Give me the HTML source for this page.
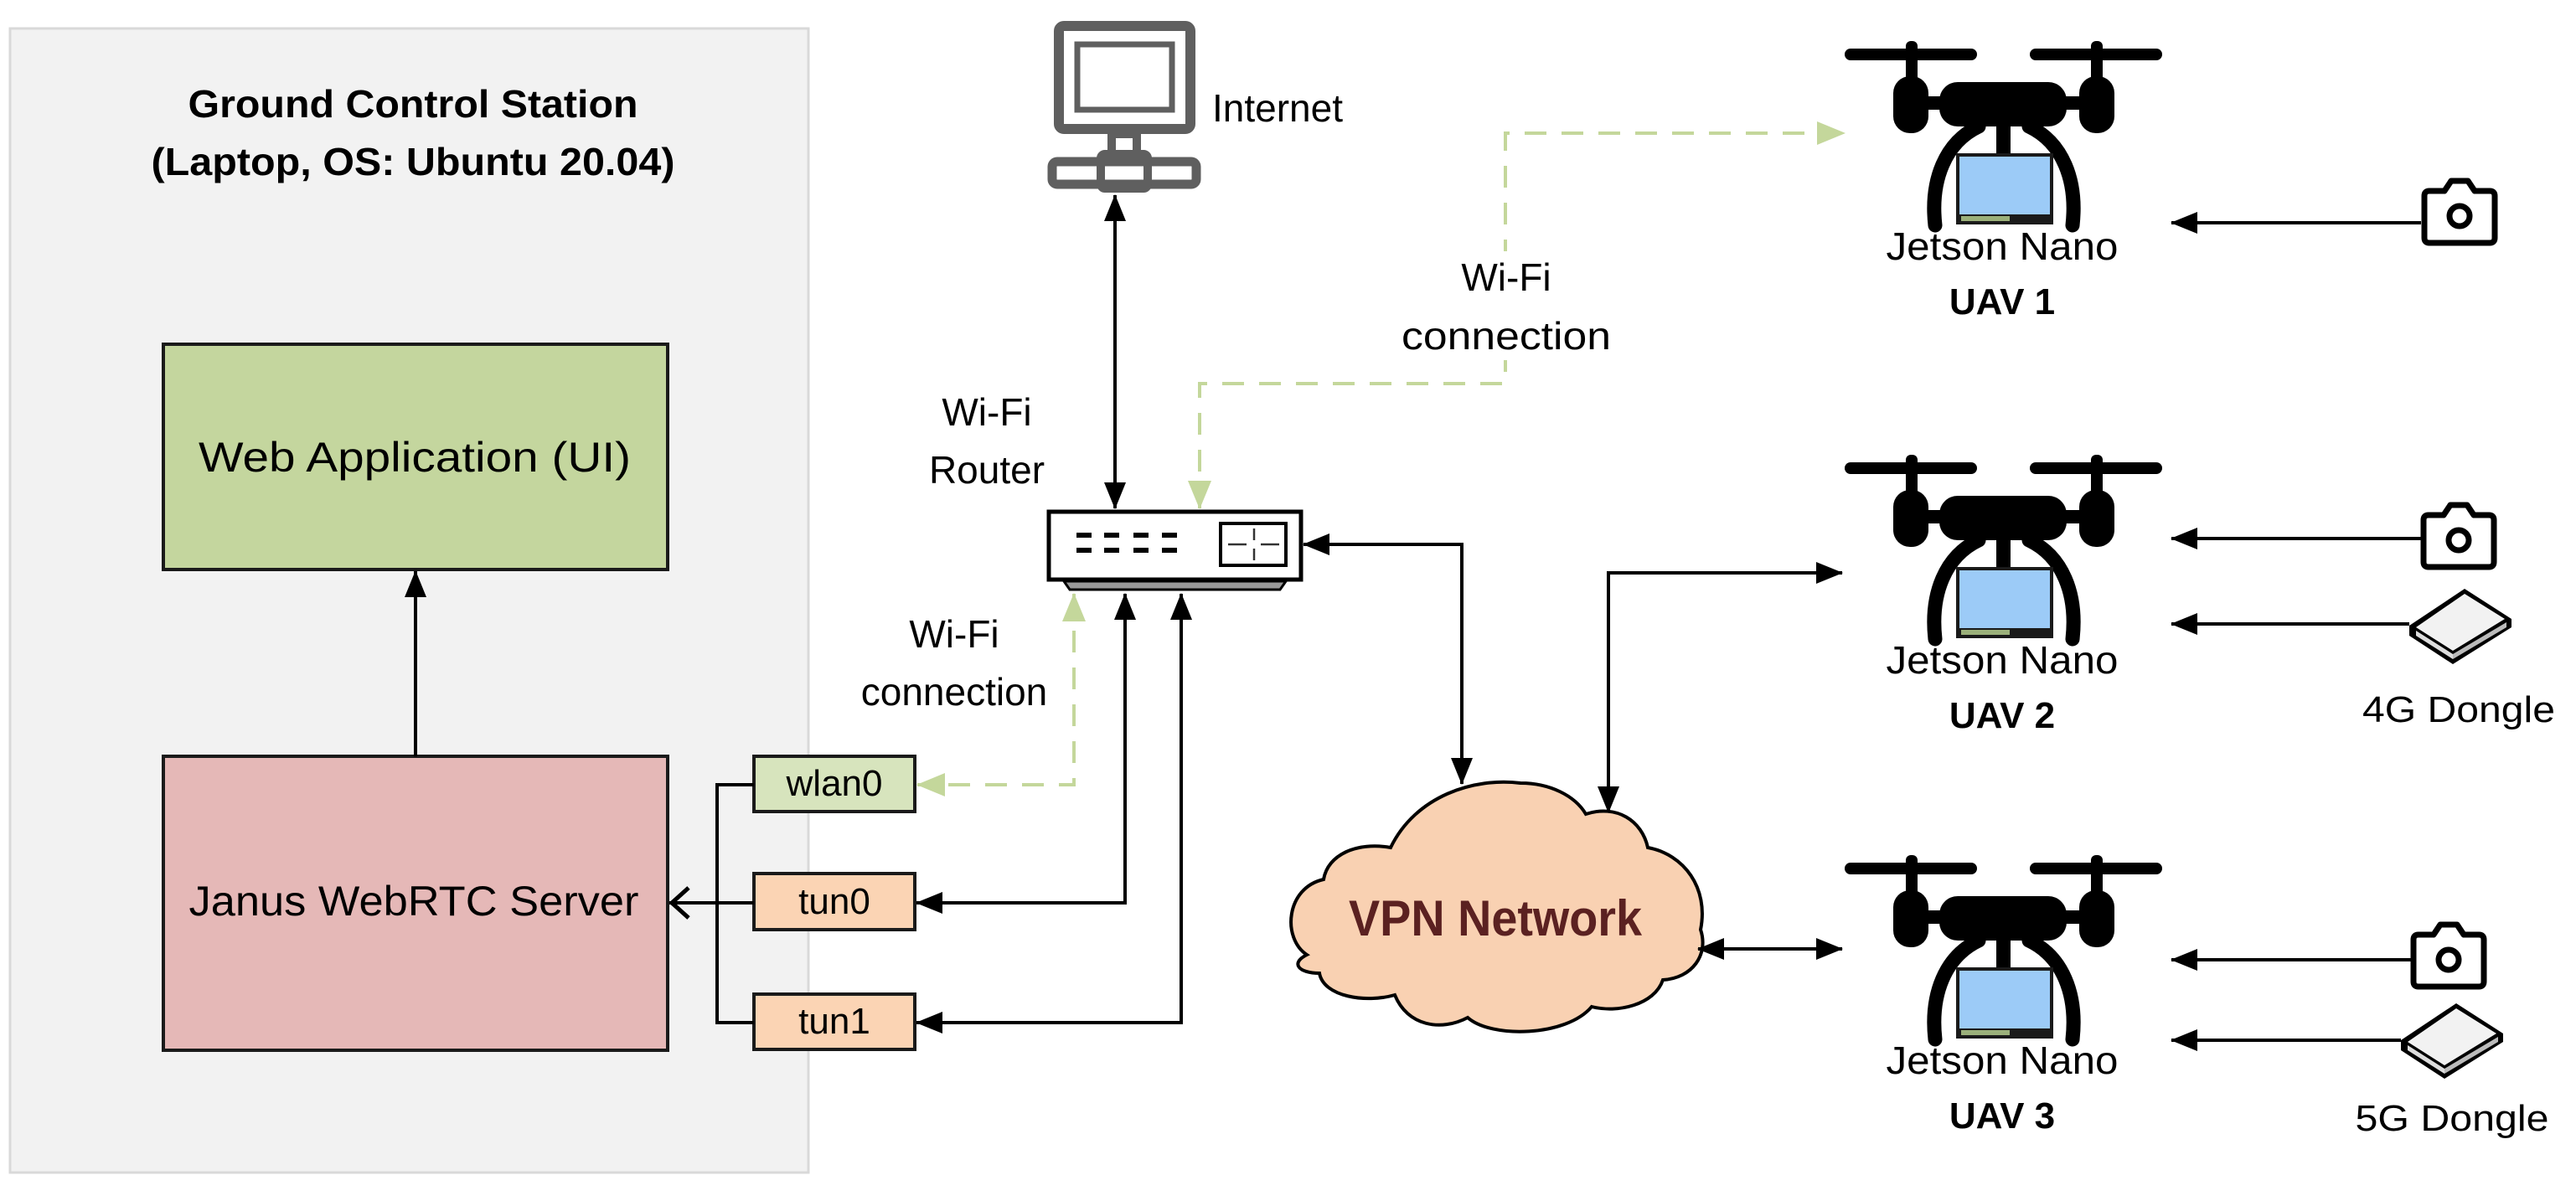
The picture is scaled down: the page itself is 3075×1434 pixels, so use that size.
<!DOCTYPE html>
<html><head><meta charset="utf-8"><style>html,body{margin:0;padding:0;background:#fff}svg{display:block}text{font-family:"Liberation Sans",sans-serif}</style></head>
<body>
<svg width="3075" height="1434" viewBox="0 0 3075 1434" xmlns="http://www.w3.org/2000/svg">
<defs>
<marker id="ab" viewBox="0 0 32 26" refX="31" refY="13" markerWidth="32" markerHeight="26" orient="auto-start-reverse" markerUnits="userSpaceOnUse"><path d="M0,0 L32,13 L0,26 Z" fill="#000"/></marker>
<marker id="ag" viewBox="0 0 34 28" refX="33" refY="14" markerWidth="34" markerHeight="28" orient="auto-start-reverse" markerUnits="userSpaceOnUse"><path d="M0,0 L34,14 L0,28 Z" fill="#c4d79b"/></marker>
<g id="drone">
<rect x="-190" y="-7" width="158" height="14" rx="7" fill="#000"/>
<rect x="31" y="-7" width="158" height="14" rx="7" fill="#000"/>
<rect x="-117" y="-16" width="14" height="50" rx="6" fill="#000"/>
<rect x="104" y="-16" width="14" height="50" rx="6" fill="#000"/>
<rect x="-132" y="26" width="42" height="68" rx="20" fill="#000"/>
<rect x="90" y="26" width="42" height="68" rx="20" fill="#000"/>
<rect x="-100" y="50" width="200" height="16" fill="#000"/>
<rect x="-77" y="33" width="152" height="53" rx="22" fill="#000"/>
<rect x="-9" y="84" width="17" height="40" fill="#000"/>
<path d="M-82,204 C-88,150 -70,105 -30,86 M82,204 C88,150 70,105 30,86" stroke="#000" stroke-width="17" fill="none" stroke-linecap="round"/>
<rect x="-55" y="120" width="112" height="81" fill="#9ccbf7" stroke="#1a1a1a" stroke-width="4"/>
<rect x="-53" y="191" width="108" height="10" fill="#1a1a1a"/>
<rect x="-51" y="193" width="58" height="6" fill="#9bb07a"/>
</g>
<g id="cam">
<path d="M-36,-30 L-18,-30 L-10,-42 L10,-42 L18,-30 L36,-30 Q42,-30 42,-24 L42,26 Q42,32 36,32 L-36,32 Q-42,32 -42,26 L-42,-24 Q-42,-30 -36,-30 Z" fill="#fff" stroke="#000" stroke-width="7" stroke-linejoin="round"/>
<circle cx="0" cy="0" r="12" fill="none" stroke="#000" stroke-width="7"/>
</g>
<g id="dongle">
<path d="M0,-42 L56,-6 L56,4 L-14,48 L-66,14 L-66,2 Z" fill="#000"/>
<path d="M0,-36 L48,-6 L-14,32 L-58,4 Z" fill="#f2f2f2"/>
<path d="M-58,8 L-14,36 L-14,42 L-58,14 Z" fill="#ddd"/>
<path d="M-14,36 L50,-2 L50,4 L-14,42 Z" fill="#bbb"/>
</g>
</defs>

<rect x="12" y="34" width="953" height="1366" fill="#f2f2f2" stroke="#d9d9d9" stroke-width="3"/>
<text x="493" y="140" font-size="46" font-weight="bold" text-anchor="middle" textLength="537" lengthAdjust="spacingAndGlyphs">Ground Control Station</text>
<text x="493" y="209" font-size="46" font-weight="bold" text-anchor="middle" textLength="625" lengthAdjust="spacingAndGlyphs">(Laptop, OS: Ubuntu 20.04)</text>
<rect x="195" y="411" width="602" height="269" fill="#c4d69e" stroke="#1a1a1a" stroke-width="4"/>
<text x="495" y="563" font-size="50" text-anchor="middle" textLength="516" lengthAdjust="spacingAndGlyphs">Web Application (UI)</text>
<rect x="195" y="903" width="602" height="351" fill="#e5b8b7" stroke="#1a1a1a" stroke-width="4"/>
<text x="494" y="1093" font-size="50" text-anchor="middle" textLength="537" lengthAdjust="spacingAndGlyphs">Janus WebRTC Server</text>
<line x1="496" y1="903" x2="496" y2="682" stroke="#000" stroke-width="4" marker-end="url(#ab)"/>

<rect x="900" y="903" width="192" height="66" fill="#d7e4bd" stroke="#1a1a1a" stroke-width="4"/>
<text x="996" y="950" font-size="44" text-anchor="middle">wlan0</text>
<rect x="900" y="1043" width="192" height="67" fill="#fbd4b4" stroke="#1a1a1a" stroke-width="4"/>
<text x="996" y="1091" font-size="44" text-anchor="middle">tun0</text>
<rect x="900" y="1187" width="192" height="66" fill="#fbd4b4" stroke="#1a1a1a" stroke-width="4"/>
<text x="996" y="1234" font-size="44" text-anchor="middle">tun1</text>
<path d="M900,937 L856,937 L856,1221 L900,1221" stroke="#000" stroke-width="4" fill="none"/>
<line x1="900" y1="1078" x2="799" y2="1078" stroke="#000" stroke-width="4"/>
<path d="M822,1060 L802,1078 L822,1096" stroke="#000" stroke-width="5" fill="none"/>

<g fill="none" stroke="#5f5f5f">
<rect x="1264" y="31" width="157" height="123" rx="6" stroke-width="12"/>
<rect x="1286" y="53" width="113" height="78" stroke-width="7"/>
<rect x="1327" y="160" width="30" height="24" stroke-width="10"/>
<rect x="1256" y="193" width="172" height="27" rx="6" stroke-width="11"/>
<rect x="1314" y="184" width="56" height="41" rx="5" stroke-width="10"/>
</g>
<text x="1447" y="145" font-size="46">Internet</text>
<line x1="1331" y1="233" x2="1331" y2="607" stroke="#000" stroke-width="4" marker-end="url(#ab)" marker-start="url(#ab)"/>
<text x="1178" y="508" font-size="46" text-anchor="middle">Wi-Fi</text>
<text x="1178" y="577" font-size="46" text-anchor="middle">Router</text>

<rect x="1252" y="611" width="301" height="81" fill="#fff" stroke="#000" stroke-width="5"/>
<path d="M1270,694 L1535,694 L1528,704 L1277,704 Z" fill="#999" stroke="#000" stroke-width="3"/>
<g fill="#000">
<rect x="1285" y="636" width="18" height="6"/><rect x="1318" y="636" width="18" height="6"/><rect x="1353" y="636" width="18" height="6"/><rect x="1387" y="636" width="18" height="6"/>
<rect x="1285" y="654" width="18" height="6"/><rect x="1318" y="654" width="18" height="6"/><rect x="1353" y="654" width="18" height="6"/><rect x="1387" y="654" width="18" height="6"/>
</g>
<rect x="1457" y="625" width="78" height="50" fill="#fff" stroke="#000" stroke-width="4"/>
<path d="M1466,650 L1488,650 M1505,650 L1527,650 M1497,631 L1497,645 M1497,655 L1497,669" stroke="#333" stroke-width="2.5"/>

<path d="M1343,709 L1343,1078 L1094,1078" stroke="#000" stroke-width="4" fill="none" marker-end="url(#ab)" marker-start="url(#ab)"/>
<path d="M1410,709 L1410,1221 L1094,1221" stroke="#000" stroke-width="4" fill="none" marker-end="url(#ab)" marker-start="url(#ab)"/>
<path d="M1282,709 L1282,937 L1095,937" stroke="#c4d79b" stroke-width="4" stroke-dasharray="26,18" fill="none" marker-end="url(#ag)" marker-start="url(#ag)"/>
<text x="1139" y="773" font-size="46" text-anchor="middle">Wi-Fi</text>
<text x="1139" y="842" font-size="46" text-anchor="middle">connection</text>

<path d="M1432,607 L1432,458 L1797,458 L1797,159 L2202,159" stroke="#c4d79b" stroke-width="4" stroke-dasharray="26,18" fill="none" marker-end="url(#ag)" marker-start="url(#ag)"/>
<rect x="1660" y="300" width="280" height="130" fill="#fff"/>
<text x="1798" y="347" font-size="46" text-anchor="middle">Wi-Fi</text>
<text x="1798" y="417" font-size="46" text-anchor="middle" textLength="250" lengthAdjust="spacingAndGlyphs">connection</text>

<path d="M1560,1140 C1530,1120 1535,1060 1580,1050 C1585,1020 1620,1005 1660,1012 C1690,950 1760,928 1815,935 C1850,935 1880,950 1893,972 C1930,960 1960,980 1967,1012 C2010,1020 2040,1060 2030,1110 C2040,1140 2020,1168 1985,1170 C1975,1200 1930,1210 1900,1202 C1870,1238 1780,1240 1752,1215 C1720,1232 1680,1225 1665,1188 C1630,1198 1580,1190 1575,1162 C1550,1162 1540,1150 1560,1140 Z" fill="#f9d1b2" stroke="#000" stroke-width="4"/>
<text x="1785" y="1117" font-size="60" font-weight="bold" fill="#5b2121" text-anchor="middle" textLength="350" lengthAdjust="spacingAndGlyphs">VPN Network</text>

<path d="M1556,650 L1745,650 L1745,936" stroke="#000" stroke-width="4" fill="none" marker-end="url(#ab)" marker-start="url(#ab)"/>
<path d="M1920,970 L1920,684 L2199,684" stroke="#000" stroke-width="4" fill="none" marker-end="url(#ab)" marker-start="url(#ab)"/>
<line x1="2027" y1="1133" x2="2199" y2="1133" stroke="#000" stroke-width="4" marker-end="url(#ab)" marker-start="url(#ab)"/>

<use href="#drone" x="2392" y="65"/>
<use href="#drone" x="2392" y="559"/>
<use href="#drone" x="2392" y="1037"/>
<text x="2390" y="310" font-size="46" text-anchor="middle" textLength="277" lengthAdjust="spacingAndGlyphs">Jetson Nano</text>
<text x="2390" y="375" font-size="44" font-weight="bold" text-anchor="middle">UAV 1</text>
<text x="2390" y="804" font-size="46" text-anchor="middle" textLength="277" lengthAdjust="spacingAndGlyphs">Jetson Nano</text>
<text x="2390" y="869" font-size="44" font-weight="bold" text-anchor="middle">UAV 2</text>
<text x="2390" y="1282" font-size="46" text-anchor="middle" textLength="277" lengthAdjust="spacingAndGlyphs">Jetson Nano</text>
<text x="2390" y="1347" font-size="44" font-weight="bold" text-anchor="middle">UAV 3</text>

<use href="#cam" x="2936" y="258"/>
<line x1="2890" y1="266" x2="2592" y2="266" stroke="#000" stroke-width="4" marker-end="url(#ab)"/>
<use href="#cam" x="2935" y="645"/>
<line x1="2890" y1="643" x2="2592" y2="643" stroke="#000" stroke-width="4" marker-end="url(#ab)"/>
<use href="#dongle" x="2942" y="745"/>
<line x1="2876" y1="745" x2="2592" y2="745" stroke="#000" stroke-width="4" marker-end="url(#ab)"/>
<text x="2935" y="862" font-size="44" text-anchor="middle" textLength="230" lengthAdjust="spacingAndGlyphs">4G Dongle</text>
<use href="#cam" x="2923" y="1146"/>
<line x1="2878" y1="1146" x2="2592" y2="1146" stroke="#000" stroke-width="4" marker-end="url(#ab)"/>
<use href="#dongle" x="2932" y="1240"/>
<line x1="2866" y1="1242" x2="2592" y2="1242" stroke="#000" stroke-width="4" marker-end="url(#ab)"/>
<text x="2927" y="1350" font-size="44" text-anchor="middle" textLength="231" lengthAdjust="spacingAndGlyphs">5G Dongle</text>
</svg>
</body></html>
